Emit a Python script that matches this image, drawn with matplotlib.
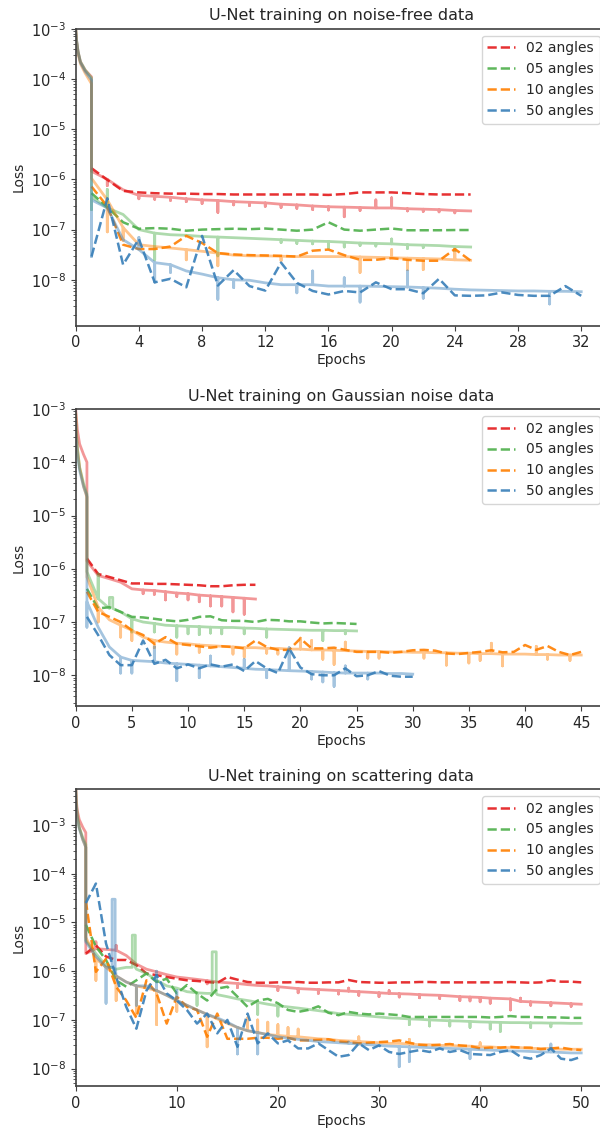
import numpy as np
import matplotlib
matplotlib.use('Agg')
import matplotlib.pyplot as plt
from matplotlib.ticker import LogLocator, MultipleLocator, NullFormatter, FixedLocator

plt.rcParams['font.family'] = ['DejaVu Sans']
plt.rcParams['font.size'] = 10.5
plt.rcParams['text.color'] = '0.15'
plt.rcParams['axes.labelcolor'] = '0.15'
plt.rcParams['axes.edgecolor'] = '0.25'
plt.rcParams['axes.linewidth'] = 1.2
plt.rcParams['xtick.color'] = '0.25'
plt.rcParams['ytick.color'] = '0.25'
plt.rcParams['xtick.labelcolor'] = '0.15'
plt.rcParams['ytick.labelcolor'] = '0.15'

angles = ['02', '05', '10', '50']
colors = ['#e41a1c', '#4daf4a', '#ff7f00', '#377eb8']
titles = ['U-Net training on noise-free data',
          'U-Net training on Gaussian noise data',
          'U-Net training on scattering data']
xsteps = [4, 5, 10]
yticks = [1e-8, 1e-7, 1e-6, 1e-5, 1e-4, 1e-3]

# ---------------- noise-free ----------------
free_head_x = [0, 0.05, 0.15, 0.3, 0.6, 1.0]
free_head_02 = [1e-3, 6e-4, 3.5e-4, 2.2e-4, 1.5e-4, 1.1e-4]
free_head_05 = [1e-3, 6e-4, 3.5e-4, 2.2e-4, 1.5e-4, 1.05e-4]
free_head_10 = [1e-3, 5.5e-4, 3.2e-4, 2.0e-4, 1.3e-4, 8e-5]
free_head_50 = [1e-3, 6e-4, 3.4e-4, 2.1e-4, 1.4e-4, 9.5e-5]

free_val_02 = [1.67e-6, 9.8e-7, 5.9e-7, 5.5e-7, 5.3e-7, 5.2e-7, 5.2e-7, 5.1e-7, 5.1e-7, 5.0e-7,
               5.0e-7, 5.0e-7, 5.0e-7, 5.0e-7, 5.0e-7, 4.9e-7, 5.1e-7, 5.5e-7, 5.5e-7, 5.5e-7,
               5.3e-7, 5.1e-7, 5.0e-7, 5.0e-7, 5.0e-7]
free_trn_02 = [1.45e-6, 1.0e-6, 6.2e-7, 4.8e-7, 4.6e-7, 4.4e-7, 4.1e-7, 3.9e-7, 3.8e-7, 3.6e-7,
               3.5e-7, 3.4e-7, 3.2e-7, 3.1e-7, 2.95e-7, 2.85e-7, 2.8e-7, 2.75e-7, 2.7e-7, 2.7e-7,
               2.6e-7, 2.55e-7, 2.5e-7, 2.4e-7, 2.35e-7]
free_spx_02 = [2, 4, 5, 6, 7, 8, 9, 10, 11, 12, 13, 14, 15, 16, 17, 18, 19, 20, 21, 22, 23, 24]
free_spy_02 = [7.5e-7, 4.1e-7, 4.0e-7, 3.8e-7, 3.6e-7, 3.3e-7, 2.2e-7, 3.1e-7, 3.0e-7, 2.9e-7,
               2.75e-7, 2.65e-7, 2.5e-7, 2.45e-7, 1.8e-7, 2.4e-7, 3.9e-7, 4.3e-7, 2.35e-7, 2.3e-7,
               2.25e-7, 2.15e-7]

free_val_05 = [5.3e-7, 2.8e-7, 1.4e-7, 1.04e-7, 1.07e-7, 1.04e-7, 9.5e-8, 1.0e-7, 1.02e-7, 1.04e-7,
               1.02e-7, 1.05e-7, 1.0e-7, 9.5e-8, 1.0e-7, 1.4e-7, 1.0e-7, 9.5e-8, 1.0e-7, 1.05e-7,
               9.7e-8, 9.7e-8, 9.7e-8, 9.8e-8, 9.8e-8]
free_trn_05 = [4.5e-7, 2.7e-7, 2.0e-7, 1.0e-7, 8.5e-8, 7.9e-8, 7.7e-8, 7.3e-8, 7.1e-8, 6.9e-8,
               6.7e-8, 6.5e-8, 6.3e-8, 6.1e-8, 5.9e-8, 5.8e-8, 5.6e-8, 5.4e-8, 5.3e-8, 5.2e-8,
               5.0e-8, 4.9e-8, 4.8e-8, 4.6e-8, 4.5e-8]
free_spx_05 = [1, 2, 5, 9, 13, 14, 15, 16, 17, 18, 19, 20, 21, 22, 24]
free_spy_05 = [2.5e-7, 6.3e-7, 2.5e-8, 3.0e-8, 5.5e-8, 5.3e-8, 5.2e-8, 4.3e-8, 4.5e-8, 4.8e-8,
               4.7e-8, 6.5e-8, 4.2e-8, 4.4e-8, 3.8e-8]

free_val_10 = [7.2e-7, 2.9e-7, 5.0e-8, 4.1e-8, 4.1e-8, 4.6e-8, 7.5e-8, 5.4e-8, 3.4e-8, 3.2e-8,
               3.1e-8, 3.05e-8, 3.0e-8, 2.9e-8, 3.8e-8, 4.0e-8, 3.1e-8, 2.5e-8, 2.5e-8, 2.7e-8,
               2.5e-8, 2.4e-8, 2.4e-8, 4.1e-8, 2.4e-8]
free_trn_10 = [1.05e-6, 3.9e-7, 1.1e-7, 5.0e-8, 4.6e-8, 4.3e-8, 4.0e-8, 3.7e-8, 3.4e-8, 3.1e-8,
               3.0e-8, 3.0e-8, 2.95e-8, 2.9e-8, 2.9e-8, 2.9e-8, 2.9e-8, 2.85e-8, 2.8e-8, 2.75e-8,
               2.7e-8, 2.65e-8, 2.6e-8, 2.5e-8, 2.45e-8]
free_spx_10 = [2, 3, 7, 9, 13, 18, 20, 21, 22, 24]
free_spy_10 = [9e-8, 6e-8, 2.5e-8, 1.9e-8, 2.4e-8, 1.4e-8, 4.0e-8, 1.6e-8, 1.6e-8, 4.0e-8]

free_val_50 = [2.9e-8, 4.2e-7, 2.0e-8, 6.5e-8, 8.9e-9, 1.05e-8, 7.1e-9, 7.5e-8, 7.7e-9, 1.56e-8,
               7.5e-9, 6.1e-9, 2.2e-8, 8.7e-9, 6.0e-9, 5.1e-9, 6.0e-9, 5.6e-9, 8.9e-9, 6.5e-9,
               6.5e-9, 5.4e-9, 1.05e-8, 4.9e-9, 4.8e-9, 4.9e-9, 5.6e-9, 5.0e-9, 4.8e-9, 4.8e-9,
               7.5e-9, 4.8e-9]
free_trn_50 = [3.9e-7, 2.7e-7, 6.3e-8, 4.0e-8, 2.2e-8, 2.0e-8, 1.5e-8, 1.3e-8, 1.1e-8, 1.0e-8,
               9.8e-9, 8.7e-9, 8.0e-9, 8.0e-9, 8.0e-9, 7.5e-9, 7.5e-9, 7.5e-9, 7.4e-9, 7.3e-9,
               7.2e-9, 7.0e-9, 6.8e-9, 6.5e-9, 6.3e-9, 6.2e-9, 6.1e-9, 6.0e-9, 6.0e-9, 5.9e-9,
               5.9e-9, 5.8e-9]
free_spx_50 = [1, 4, 5, 6, 9, 10, 14, 15, 17, 18, 21, 22, 30]
free_spy_50 = [2.9e-8, 7e-8, 9e-9, 1.4e-8, 4.1e-9, 7e-9, 5.5e-9, 1.5e-8, 1.1e-8, 3.6e-9,
               1.5e-8, 4.3e-9, 3.3e-9]

# ---------------- Gaussian noise ----------------
gauss_head_x = [0, 0.05, 0.15, 0.35, 0.7, 1.0]
gauss_head_02 = [1e-3, 7e-4, 4e-4, 2.2e-4, 1.4e-4, 1.0e-4]
gauss_head_05 = [8e-4, 4e-4, 1.8e-4, 8e-5, 4e-5, 2.5e-5]
gauss_head_10 = [8e-4, 4e-4, 1.8e-4, 8e-5, 3.5e-5, 2.2e-5]
gauss_head_50 = [6e-4, 3e-4, 1.5e-4, 7e-5, 3.5e-5, 2.3e-5]

gauss_val_02 = [1.56e-6, 8.0e-7, 7.0e-7, 6.1e-7, 5.3e-7, 5.3e-7, 5.2e-7, 5.2e-7, 5.1e-7, 5.0e-7,
                4.9e-7, 4.7e-7, 4.7e-7, 4.9e-7, 5.0e-7, 5.0e-7]
gauss_trn_02 = [1.4e-6, 7.5e-7, 6.5e-7, 5.6e-7, 4.2e-7, 4.0e-7, 3.9e-7, 3.7e-7, 3.5e-7, 3.4e-7,
                3.2e-7, 3.1e-7, 3.0e-7, 2.9e-7, 2.8e-7, 2.7e-7]
gauss_spx_02 = [6, 7, 8, 9, 10, 11, 12, 13, 14, 15]
gauss_spy_02 = [3.4e-7, 3.3e-7, 2.6e-7, 3.0e-7, 2.6e-7, 2.4e-7, 2.0e-7, 2.0e-7, 1.55e-7, 1.4e-7]

gauss_val_05 = [4.2e-7, 1.8e-7, 1.9e-7, 1.55e-7, 1.25e-7, 1.22e-7, 1.15e-7, 1.08e-7, 1.03e-7, 1.1e-7,
                1.25e-7, 1.28e-7, 1.08e-7, 1.05e-7, 1.05e-7, 1.0e-7, 1.1e-7, 1.08e-7, 1.03e-7, 1.03e-7,
                9.8e-8, 9.4e-8, 9.6e-8, 9.4e-8, 9.2e-8]
gauss_trn_05 = [8.8e-7, 2.75e-7, 1.8e-7, 1.55e-7, 1.15e-7, 1.0e-7, 9.4e-8, 8.7e-8, 8.5e-8, 8.3e-8,
                8.2e-8, 8.0e-8, 7.9e-8, 7.9e-8, 7.7e-8, 7.6e-8, 7.4e-8, 7.3e-8, 7.2e-8, 7.1e-8,
                7.0e-8, 7.0e-8, 6.9e-8, 6.9e-8, 6.8e-8]
gauss_spx_05 = [2, 5, 7, 9, 10, 11, 12, 13, 15, 17, 22, 24]
gauss_spy_05 = [8e-7, 6.5e-8, 6.5e-8, 5.2e-8, 6e-8, 5.8e-8, 6.2e-8, 6e-8, 6e-8, 5.2e-8, 4.5e-8, 6e-8]
gauss_bur_05 = [(3.0, 3.3, 2.9e-7)]

gauss_val_10 = [3.7e-7, 1.55e-7, 1.25e-7, 1.0e-7, 7.0e-8, 5.7e-8, 3.9e-8, 5.2e-8, 3.9e-8, 3.7e-8,
                3.5e-8, 3.3e-8, 3.5e-8, 3.4e-8, 3.2e-8, 4.5e-8, 3.4e-8, 3.0e-8, 3.0e-8, 4.9e-8,
                3.2e-8, 3.2e-8, 3.3e-8, 3.0e-8, 2.75e-8, 2.75e-8, 2.75e-8, 2.65e-8, 2.75e-8, 2.95e-8,
                3.0e-8, 2.9e-8, 2.57e-8, 2.5e-8, 2.63e-8, 2.75e-8, 2.95e-8, 2.7e-8, 2.75e-8, 3.7e-8,
                3.0e-8, 3.55e-8, 2.75e-8, 2.4e-8, 2.75e-8]
gauss_trn_10 = [7.0e-7, 1.9e-7, 1.1e-7, 8.7e-8, 7.0e-8, 5.2e-8, 4.5e-8, 4.2e-8, 4.0e-8, 3.9e-8,
                3.7e-8, 3.6e-8, 3.5e-8, 3.4e-8, 3.3e-8, 3.3e-8, 3.2e-8, 3.2e-8, 3.1e-8, 3.1e-8,
                3.0e-8, 3.0e-8, 2.95e-8, 2.9e-8, 2.85e-8, 2.8e-8, 2.8e-8, 2.75e-8, 2.75e-8, 2.7e-8,
                2.7e-8, 2.65e-8, 2.65e-8, 2.6e-8, 2.6e-8, 2.55e-8, 2.55e-8, 2.5e-8, 2.5e-8, 2.5e-8,
                2.45e-8, 2.45e-8, 2.4e-8, 2.4e-8, 2.4e-8]
gauss_spx_10 = [2, 4, 5, 7, 9, 11, 14, 15, 17, 18, 20, 21, 22, 23, 24, 26, 27, 31, 33, 35, 36,
                37, 38, 41, 42, 44]
gauss_spy_10 = [1e-7, 5.2e-8, 4.5e-8, 3.3e-8, 2.5e-8, 2.7e-8, 2.5e-8, 2.2e-8, 2.6e-8, 2.5e-8,
                5e-8, 4.5e-8, 2e-8, 1.6e-8, 4.2e-8, 2.1e-8, 2.1e-8, 2.1e-8, 1.55e-8, 1.7e-8, 1.9e-8,
                4.0e-8, 1.5e-8, 3.5e-8, 2.0e-8, 1.9e-8]

gauss_val_50 = [1.25e-7, 5.7e-8, 2.4e-8, 1.55e-8, 1.55e-8, 4.5e-8, 1.64e-8, 1.95e-8, 1.35e-8, 1.6e-8,
                1.35e-8, 1.6e-8, 1.45e-8, 1.6e-8, 1.2e-8, 1.85e-8, 1.35e-8, 1.1e-8, 3.2e-8, 1.4e-8,
                1.05e-8, 1.0e-8, 1.0e-8, 1.35e-8, 9.6e-9, 1.0e-8, 1.2e-8, 9.8e-9, 9.4e-9, 9.4e-9]
gauss_trn_50 = [2.4e-7, 8e-8, 3.4e-8, 2.2e-8, 1.9e-8, 1.85e-8, 1.8e-8, 1.7e-8, 1.65e-8, 1.6e-8,
                1.55e-8, 1.5e-8, 1.45e-8, 1.4e-8, 1.35e-8, 1.3e-8, 1.28e-8, 1.25e-8, 1.22e-8, 1.2e-8,
                1.18e-8, 1.15e-8, 1.12e-8, 1.1e-8, 1.1e-8, 1.1e-8, 1.1e-8, 1.08e-8, 1.08e-8, 1.05e-8]
gauss_spx_50 = [1, 4, 5, 7, 9, 11, 12, 15, 17, 19, 21, 22, 23, 24, 26]
gauss_spy_50 = [8e-8, 1.1e-8, 1.1e-8, 3.4e-8, 7.9e-9, 9e-9, 2.3e-8, 2.0e-8, 9e-9, 3.3e-8,
                8.5e-9, 7.5e-9, 6.2e-9, 1.5e-8, 8.5e-9]

# ---------------- scattering ----------------
scat_head_x = [0, 0.05, 0.15, 0.35, 0.7, 1.0]
scat_head_02 = [7e-3, 3.5e-3, 2e-3, 1.3e-3, 9e-4, 7e-4]
scat_head_05 = [6e-3, 3e-3, 1.6e-3, 9e-4, 5.5e-4, 4e-4]
scat_head_10 = [6e-3, 3e-3, 1.6e-3, 9e-4, 5e-4, 3.5e-4]
scat_head_50 = [6e-3, 2.8e-3, 1.5e-3, 8.5e-4, 5e-4, 3.5e-4]

scat_val_02 = [2.3e-6, 3.4e-6, 2.0e-6, 1.7e-6, 1.7e-6, 1.33e-6, 9.0e-7, 8.3e-7, 7.6e-7, 7.0e-7,
               6.5e-7, 6.3e-7, 6.0e-7, 5.75e-7, 7.6e-7, 6.7e-7, 6.0e-7, 5.8e-7, 5.8e-7, 5.9e-7,
               5.9e-7, 6.0e-7, 5.8e-7, 5.8e-7, 5.9e-7, 5.9e-7, 6.6e-7, 6.0e-7, 5.9e-7, 5.8e-7,
               5.8e-7, 5.9e-7, 5.9e-7, 6.0e-7, 6.0e-7, 5.9e-7, 5.9e-7, 5.9e-7, 5.9e-7, 5.9e-7,
               5.9e-7, 5.9e-7, 6.0e-7, 5.9e-7, 5.8e-7, 5.9e-7, 6.5e-7, 6.1e-7, 6.1e-7, 5.9e-7]
scat_trn_02 = [2.3e-6, 2.9e-6, 2.8e-6, 2.7e-6, 2.1e-6, 1.4e-6, 1.1e-6, 9.7e-7, 8.5e-7, 7.6e-7,
               7.2e-7, 6.8e-7, 6.4e-7, 6.0e-7, 5.8e-7, 5.6e-7, 5.3e-7, 5.1e-7, 5.0e-7, 4.8e-7,
               4.6e-7, 4.4e-7, 4.3e-7, 4.2e-7, 4.1e-7, 4.0e-7, 3.9e-7, 3.8e-7, 3.7e-7, 3.6e-7,
               3.5e-7, 3.45e-7, 3.4e-7, 3.3e-7, 3.25e-7, 3.2e-7, 3.1e-7, 3.0e-7, 2.95e-7, 2.9e-7,
               2.8e-7, 2.75e-7, 2.7e-7, 2.4e-7, 2.35e-7, 2.3e-7, 2.25e-7, 2.2e-7, 2.15e-7, 2.1e-7]
scat_spx_02 = [2, 4, 13, 16, 20, 22, 24, 26, 27, 28, 30, 31, 32, 34, 36, 38, 39, 40, 41, 43, 44,
               45, 47, 49]
scat_spy_02 = [4e-6, 3.4e-6, 5.5e-7, 4.6e-7, 4.0e-7, 3.6e-7, 3.5e-7, 3.4e-7, 4.5e-7, 3.2e-7,
               3.0e-7, 4.0e-7, 2.95e-7, 2.85e-7, 2.75e-7, 2.5e-7, 2.45e-7, 2.35e-7, 2.2e-7, 1.6e-7,
               2.8e-7, 2.0e-7, 1.95e-7, 1.9e-7]

scat_val_05 = [9.0e-6, 3.2e-6, 1.7e-6, 6.5e-7, 4.8e-7, 6.5e-7, 9.0e-7, 6.0e-7, 7.0e-7, 3.5e-7,
               5.2e-7, 3.5e-7, 2.5e-7, 4.4e-7, 4.8e-7, 3.0e-7, 1.85e-7, 2.5e-7, 2.7e-7, 2.2e-7,
               1.6e-7, 1.46e-7, 1.6e-7, 1.9e-7, 1.4e-7, 1.25e-7, 1.46e-7, 1.35e-7, 1.3e-7, 1.35e-7,
               1.3e-7, 1.25e-7, 1.15e-7, 1.15e-7, 1.15e-7, 1.15e-7, 1.15e-7, 1.15e-7, 1.15e-7, 1.15e-7,
               1.12e-7, 1.15e-7, 1.2e-7, 1.15e-7, 1.15e-7, 1.13e-7, 1.13e-7, 1.12e-7, 1.1e-7, 1.1e-7]
scat_trn_05 = [4.3e-6, 2.3e-6, 1.3e-6, 1.1e-6, 1.2e-6, 1.1e-6, 9e-7, 6.5e-7, 5e-7, 4.5e-7,
               3.8e-7, 3.6e-7, 3.5e-7, 3.3e-7, 3.0e-7, 2.7e-7, 2.5e-7, 2.3e-7, 2.1e-7, 1.95e-7,
               1.85e-7, 1.75e-7, 1.65e-7, 1.55e-7, 1.45e-7, 1.35e-7, 1.3e-7, 1.25e-7, 1.2e-7, 1.15e-7,
               1.1e-7, 1.08e-7, 1.05e-7, 1.03e-7, 1.0e-7, 9.8e-8, 9.6e-8, 9.5e-8, 9.3e-8, 9.1e-8,
               9.0e-8, 8.9e-8, 8.8e-8, 8.8e-8, 8.7e-8, 8.7e-8, 8.6e-8, 8.6e-8, 8.5e-8, 8.5e-8]
scat_spx_05 = [12, 18, 20, 33, 35, 37, 39, 41, 42, 45, 47]
scat_spy_05 = [2e-7, 1.3e-7, 1.2e-7, 8e-8, 7.5e-8, 7.5e-8, 7e-8, 6.5e-8, 5.8e-8, 7e-8, 7.2e-8]
scat_bur_05 = [(5.6, 5.9, 5.5e-6), (13.5, 13.9, 2.5e-6)]

scat_val_10 = [2.8e-5, 9.7e-7, 1.8e-6, 4.8e-7, 2.5e-7, 1.1e-7, 6.5e-7, 3.5e-7, 8.4e-8, 3.0e-7,
               1.85e-7, 1.6e-7, 4.5e-8, 1.35e-7, 4.1e-8, 4.1e-8, 4.1e-8, 4.3e-8, 4.3e-8, 4.1e-8,
               4.3e-8, 3.8e-8, 3.8e-8, 3.9e-8, 4.0e-8, 3.6e-8, 3.5e-8, 3.3e-8, 3.4e-8, 3.5e-8,
               3.6e-8, 3.8e-8, 3.4e-8, 3.1e-8, 3.0e-8, 3.1e-8, 3.2e-8, 3.0e-8, 2.9e-8, 2.6e-8,
               2.7e-8, 2.7e-8, 2.8e-8, 2.7e-8, 2.7e-8, 2.5e-8, 2.6e-8, 2.7e-8, 2.5e-8, 2.4e-8]
scat_trn_10 = [5e-6, 1.8e-6, 1.2e-6, 8e-7, 6e-7, 5e-7, 4.5e-7, 4e-7, 3.2e-7, 2.5e-7,
               2e-7, 1.6e-7, 1.3e-7, 1.05e-7, 8.5e-8, 7e-8, 6e-8, 5.5e-8, 5e-8, 4.8e-8,
               4.6e-8, 4.5e-8, 4.3e-8, 4.1e-8, 4.0e-8, 3.8e-8, 3.7e-8, 3.6e-8, 3.5e-8, 3.4e-8,
               3.3e-8, 3.3e-8, 3.2e-8, 3.1e-8, 3.1e-8, 3.0e-8, 3.0e-8, 2.9e-8, 2.9e-8, 2.8e-8,
               2.8e-8, 2.7e-8, 2.7e-8, 2.7e-8, 2.6e-8, 2.6e-8, 2.6e-8, 2.5e-8, 2.5e-8, 2.5e-8]
scat_spx_10 = [2, 4, 6, 8, 10, 13, 17, 18, 19, 20, 21, 22, 28, 33, 40]
scat_spy_10 = [6.5e-7, 2.5e-7, 1.3e-7, 8e-8, 1.5e-7, 2.8e-8, 1.1e-7, 1e-7, 9e-8, 8e-8, 7e-8,
               6.5e-8, 4.5e-8, 4e-8, 3.4e-8]

scat_val_50 = [2.5e-5, 6.3e-5, 3.7e-6, 7.6e-7, 1.85e-7, 6.6e-8, 4.0e-7, 8.3e-7, 3.5e-7, 2.5e-7,
               1.6e-7, 8.4e-8, 1.35e-7, 5.3e-8, 1.0e-7, 2.8e-8, 1.35e-7, 3.3e-8, 5.3e-8, 3.3e-8,
               3.8e-8, 2.6e-8, 2.6e-8, 3.3e-8, 2.4e-8, 1.75e-8, 1.9e-8, 3.3e-8, 2.4e-8, 3.0e-8,
               2.2e-8, 2.0e-8, 2.2e-8, 2.4e-8, 2.2e-8, 2.6e-8, 2.2e-8, 2.4e-8, 2.0e-8, 1.95e-8,
               1.9e-8, 2.2e-8, 2.4e-8, 1.75e-8, 1.6e-8, 1.9e-8, 2.6e-8, 1.6e-8, 1.5e-8, 1.75e-8]
scat_trn_50 = [4e-6, 2e-6, 1.2e-6, 8e-7, 6e-7, 5e-7, 5e-7, 4e-7, 3.2e-7, 2.5e-7,
               2e-7, 1.6e-7, 1.3e-7, 1.1e-7, 9e-8, 7e-8, 6e-8, 5.5e-8, 5e-8, 4.5e-8,
               4.2e-8, 4e-8, 3.8e-8, 3.6e-8, 3.5e-8, 3.4e-8, 3.3e-8, 3.2e-8, 3.1e-8, 3.0e-8,
               2.9e-8, 2.85e-8, 2.8e-8, 2.75e-8, 2.7e-8, 2.65e-8, 2.6e-8, 2.55e-8, 2.5e-8, 2.45e-8,
               2.4e-8, 2.35e-8, 2.3e-8, 2.3e-8, 2.25e-8, 2.2e-8, 2.2e-8, 2.15e-8, 2.1e-8, 2.1e-8]
scat_spx_50 = [3, 6, 8, 10, 16, 18, 27, 32, 33, 39, 47]
scat_spy_50 = [2.2e-7, 2e-7, 1e-6, 4e-7, 2e-8, 2e-8, 3.5e-8, 1.1e-8, 1.4e-8, 1.6e-8, 3.2e-8]
scat_bur_50 = [(3.6, 3.9, 3e-5)]

panels = [
    dict(hx=free_head_x,
         head=[free_head_02, free_head_05, free_head_10, free_head_50],
         val=[free_val_02, free_val_05, free_val_10, free_val_50],
         trn=[free_trn_02, free_trn_05, free_trn_10, free_trn_50],
         spx=[free_spx_02, free_spx_05, free_spx_10, free_spx_50],
         spy=[free_spy_02, free_spy_05, free_spy_10, free_spy_50],
         bur=[[], [], [], []], ylim=(1.22e-9, 1e-3)),
    dict(hx=gauss_head_x,
         head=[gauss_head_02, gauss_head_05, gauss_head_10, gauss_head_50],
         val=[gauss_val_02, gauss_val_05, gauss_val_10, gauss_val_50],
         trn=[gauss_trn_02, gauss_trn_05, gauss_trn_10, gauss_trn_50],
         spx=[gauss_spx_02, gauss_spx_05, gauss_spx_10, gauss_spx_50],
         spy=[gauss_spy_02, gauss_spy_05, gauss_spy_10, gauss_spy_50],
         bur=[[], gauss_bur_05, [], []], ylim=(2.65e-9, 1e-3)),
    dict(hx=scat_head_x,
         head=[scat_head_02, scat_head_05, scat_head_10, scat_head_50],
         val=[scat_val_02, scat_val_05, scat_val_10, scat_val_50],
         trn=[scat_trn_02, scat_trn_05, scat_trn_10, scat_trn_50],
         spx=[scat_spx_02, scat_spx_05, scat_spx_10, scat_spx_50],
         spy=[scat_spy_02, scat_spy_05, scat_spy_10, scat_spy_50],
         bur=[[], scat_bur_05, [], scat_bur_50], ylim=(4.4e-9, 5.5e-3)),
]


def train_curve(head_x, head_y, base, spk_x, spk_y, bursts):
    # per-batch training loss: first epoch curve, then one value per epoch
    # with the short jumps seen at epoch boundaries
    xs, ys = list(head_x), list(head_y)
    spikes = dict(zip(spk_x, spk_y))
    extra = {int(b[0]): b for b in bursts}
    for e, b in enumerate(base, start=1):
        xs.append(e)
        ys.append(b)
        if e in spikes:
            xs += [e, e]
            ys += [spikes[e], b]
        if e in extra:
            x0, x1, v = extra[e]
            xs += [x0, x0, x1, x1]
            ys += [b, v, v, b]
    return xs, ys


fig = plt.figure(figsize=(6.0, 11.31), dpi=100)
tops = [28.7, 409.0, 789.0]
H = 1131.0
for i, p in enumerate(panels):
    ax = fig.add_axes([75.7 / 600, 1 - (tops[i] + 297) / H, 530.8 / 600, 297 / H])
    for k in range(4):
        tx, ty = train_curve(p['hx'], p['head'][k], p['trn'][k], p['spx'][k], p['spy'][k], p['bur'][k])
        ax.plot(tx, ty, color=colors[k], alpha=0.45, lw=2)
        ep = np.arange(1, len(p['val'][k]) + 1)
        ax.plot(ep, p['val'][k], '--', color=colors[k], alpha=0.9, lw=1.8,
                label=angles[k] + ' angles')
    ax.set_yscale('log')
    ax.set_ylim(*p['ylim'])
    ax.set_xlim(left=0)
    ax.xaxis.set_major_locator(MultipleLocator(xsteps[i]))
    ax.yaxis.set_major_locator(FixedLocator(yticks))
    ax.yaxis.set_minor_locator(LogLocator(base=10, subs=np.arange(2, 10), numticks=15))
    ax.yaxis.set_minor_formatter(NullFormatter())
    ax.tick_params(axis='both', labelsize=10.5)
    ax.set_title(titles[i], fontsize=11.5)
    ax.set_xlabel('Epochs', fontsize=10, labelpad=2)
    ax.set_ylabel('Loss', fontsize=10)
    ax.legend(loc='upper right', fontsize=10)

fig.savefig('out.png', dpi=100)
